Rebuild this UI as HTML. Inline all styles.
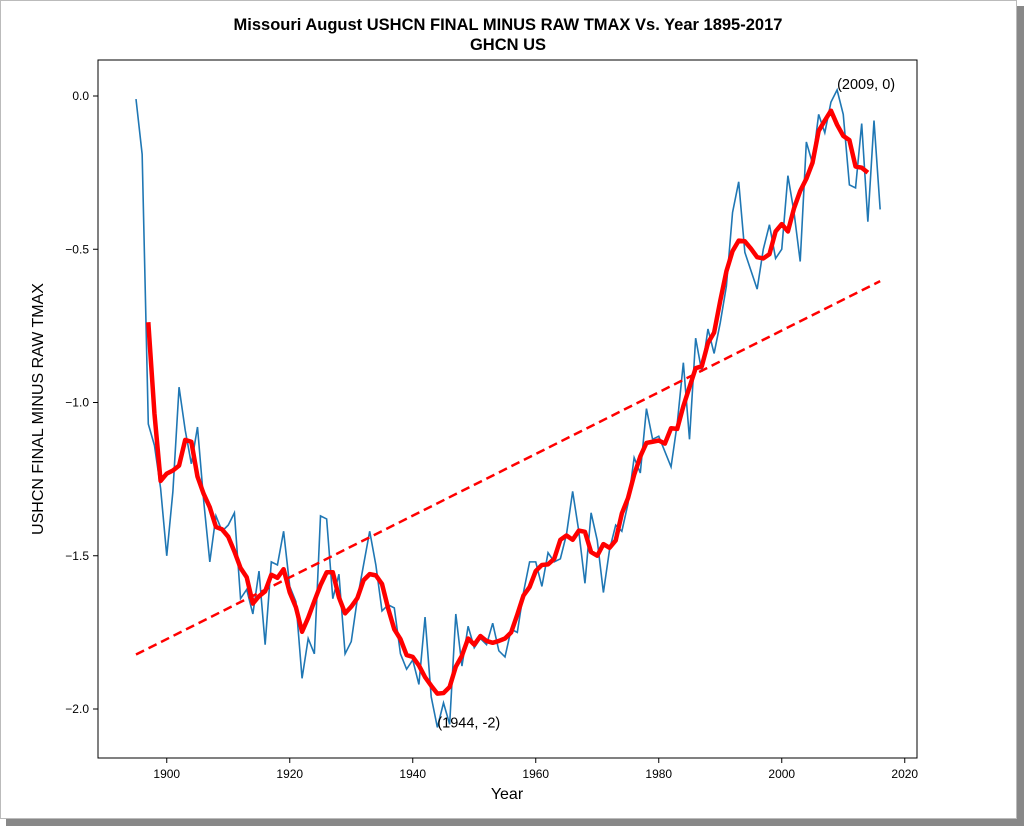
<!DOCTYPE html>
<html><head><meta charset="utf-8"><style>
body{margin:0;background:#fff;width:1024px;height:826px;overflow:hidden;font-family:"Liberation Sans","DejaVu Sans",sans-serif}
</style></head><body>
<svg width="1024" height="826" xmlns="http://www.w3.org/2000/svg">
<rect x="0" y="0" width="1024" height="826" fill="#fff"/>
<rect x="1017" y="6" width="7" height="820" fill="#888"/>
<rect x="6" y="819" width="1018" height="7" fill="#888"/>
<rect x="0.5" y="0.5" width="1016" height="818" fill="#fff" stroke="#bbb"/>
<text x="508" y="30" text-anchor="middle" font-size="16.5" font-weight="bold">Missouri August USHCN FINAL MINUS RAW TMAX Vs. Year 1895-2017</text>
<text x="508" y="50" text-anchor="middle" font-size="16.5" font-weight="bold">GHCN US</text>
<g id="axes"></g>
<g id="marks"></g>
<rect x="98" y="60" width="819" height="698" fill="none" stroke="#000" stroke-width="1"/>
<text x="43" y="409" transform="rotate(-90 43 409)" text-anchor="middle" font-size="16">USHCN FINAL MINUS RAW TMAX</text>
<text x="507" y="799" text-anchor="middle" font-size="16">Year</text>
</svg>
<script>
const years=[];for(let y=1895;y<=2016;y++)years.push(y);
const values=[-0.01,-0.19,-1.07,-1.14,-1.28,-1.50,-1.29,-0.95,-1.09,-1.20,-1.08,-1.32,-1.52,-1.37,-1.42,-1.40,-1.36,-1.64,-1.61,-1.69,-1.55,-1.79,-1.52,-1.53,-1.42,-1.60,-1.65,-1.90,-1.77,-1.82,-1.37,-1.38,-1.64,-1.56,-1.82,-1.78,-1.64,-1.53,-1.42,-1.53,-1.68,-1.66,
-1.67,-1.82,-1.87,-1.84,-1.92,-1.70,-1.96,-2.06,-1.98,-2.05,-1.69,-1.86,-1.73,-1.80,-1.77,-1.79,-1.72,-1.81,-1.83,-1.74,-1.75,-1.62,-1.52,-1.52,-1.60,-1.49,-1.52,-1.51,-1.43,-1.29,-1.42,-1.59,-1.36,-1.45,-1.62,-1.48,-1.40,-1.42,-1.33,-1.18,-1.23,
-1.02,-1.12,-1.11,-1.16,-1.21,-1.07,-0.87,-1.12,-0.79,-0.90,-0.76,-0.84,-0.74,-0.62,-0.38,-0.28,-0.51,-0.57,-0.63,-0.50,-0.42,-0.53,-0.50,-0.26,-0.38,-0.54,-0.15,-0.22,-0.06,-0.12,-0.02,0.02,-0.06,-0.29,-0.30,-0.09,-0.41,-0.08,-0.37];
const xTicks=[1900,1920,1940,1960,1980,2000,2020];
const yTicks=[0.0,-0.5,-1.0,-1.5,-2.0];
const yTickLabels=["0.0","\u22120.5","\u22121.0","\u22121.5","\u22122.0"];
const annotations=[{yr:1944,v:-2.06,label:"(1944, -2)"},{yr:2009,v:0.02,label:"(2009, 0)"}];
const NS="http://www.w3.org/2000/svg";
const X=yr=>136+(yr-1895)*6.15;
const Y=v=>96-v*306.5;
const axes=document.getElementById('axes'),marks=document.getElementById('marks');
function mk(tag,attrs,parent){const e=document.createElementNS(NS,tag);for(const k in attrs)e.setAttribute(k,attrs[k]);parent.appendChild(e);return e;}
xTicks.forEach(t=>{
 const l=mk('line',{x1:X(t),x2:X(t),y1:758,y2:763,stroke:'#000'},axes);
 
 
 const tx=mk('text',{x:X(t),y:778,'text-anchor':'middle','font-size':'12'},axes);tx.textContent=t;
 
 
});
yTicks.forEach((t,i)=>{
 const l=mk('line',{x1:93,x2:98,y1:Y(t),y2:Y(t),stroke:'#000'},axes);
 
 
 const tx=mk('text',{x:89,y:Y(t)+4,'text-anchor':'end','font-size':'12'},axes);tx.textContent=yTickLabels[i];
 
 
});
// raw series
const raw=mk('polyline',{points:years.map((y,i)=>X(y)+','+Y(values[i])).join(' '),fill:'none',stroke:'#1f77b4','stroke-width':'1.6'},marks);


// trend (least squares)
const n=years.length;let sx=0,sy=0,sxx=0,sxy=0;
years.forEach((y,i)=>{sx+=y;sy+=values[i];sxx+=y*y;sxy+=y*values[i];});
const b=(n*sxy-sx*sy)/(n*sxx-sx*sx),a=(sy-b*sx)/n;
const y0=years[0],y1=years[n-1];
const tr=mk('line',{x1:X(y0),y1:Y(a+b*y0),x2:X(y1),y2:Y(a+b*y1),stroke:'#ff0000','stroke-width':'2.5','stroke-dasharray':'9,5'},marks);


// 5-year centered moving average
const ma=[];for(let i=2;i<n-2;i++){let s=0;for(let j=-2;j<=2;j++)s+=values[i+j];ma.push(X(years[i])+','+Y(s/5));}
const mal=mk('polyline',{points:ma.join(' '),fill:'none',stroke:'#ff0000','stroke-width':'4.5','stroke-linejoin':'round'},marks);


annotations.forEach(an=>{
 const t=mk('text',{x:X(an.yr),y:Y(an.v)+(an.v<-1?0:-1),'font-size':'14.5'},marks);t.textContent=an.label;
 
 
});
</script>
</body></html>
